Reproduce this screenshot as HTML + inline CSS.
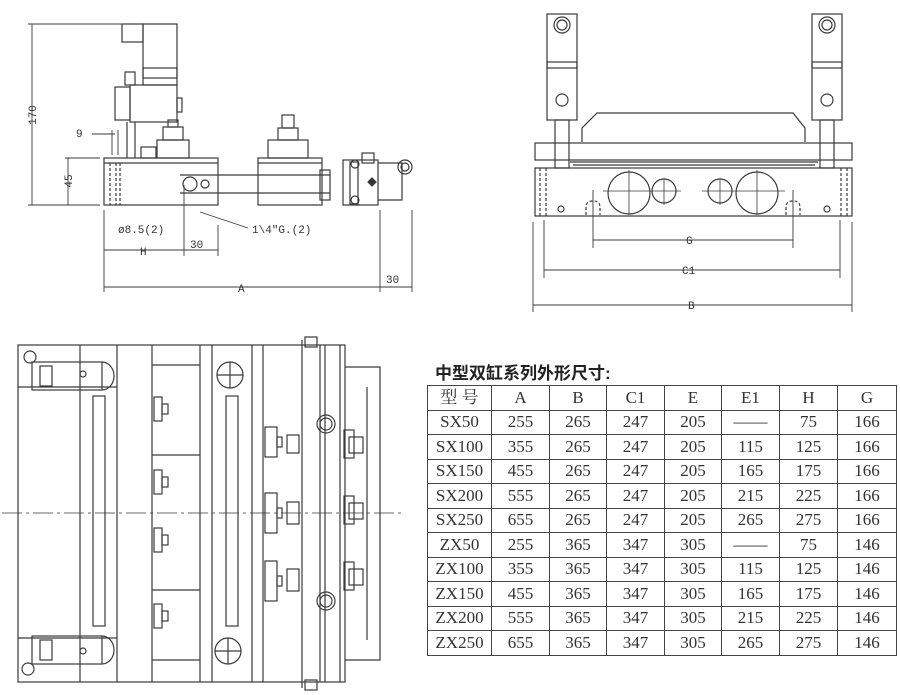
<!DOCTYPE html>
<html><head><meta charset="utf-8"><style>
body{margin:0;background:#fff;width:900px;height:695px;overflow:hidden;position:relative;font-family:"Liberation Serif","Noto Serif CJK SC",serif}
svg{position:absolute;left:0;top:0}
.t{font-family:"Liberation Mono",monospace;font-size:11px;fill:#333}
table{position:absolute;left:427px;top:385px;border-collapse:collapse;font-size:17px;color:#333}
td{border:1.5px solid #444;text-align:center;padding:0;height:23.5px;line-height:20px}
.ttl{position:absolute;left:435px;top:359px;font:bold 17px "Liberation Sans","Noto Sans CJK SC",sans-serif;color:#222}
</style></head><body>
<svg width="900" height="695" viewBox="0 0 900 695" fill="none" stroke="#3a3a3a" stroke-width="1.2">
<!-- side view -->
<rect x="104" y="158" width="114" height="47"/>
<line x1="104" y1="163" x2="218" y2="163"/>
<line x1="110" y1="163" x2="110" y2="205" stroke-dasharray="3,2"/><line x1="116" y1="163" x2="116" y2="205" stroke-dasharray="3,2"/><line x1="120" y1="163" x2="120" y2="205" stroke-dasharray="3,2"/>
<rect x="143" y="24" width="34" height="61"/><rect x="122" y="24" width="21" height="18"/>
<rect x="143" y="68" width="34" height="10"/>
<rect x="130" y="85" width="47" height="37"/><rect x="115" y="87" width="15" height="33"/>
<rect x="125" y="72" width="10" height="13"/><rect x="177" y="98" width="5" height="14"/>
<line x1="127" y1="122" x2="127" y2="158"/><line x1="135" y1="122" x2="135" y2="158"/>
<rect x="157" y="140" width="32" height="18"/><rect x="163" y="127" width="20" height="13"/><rect x="168" y="120" width="10" height="7"/>
<rect x="141" y="147" width="15" height="11"/>
<line x1="180" y1="175" x2="330" y2="175"/><line x1="180" y1="193" x2="330" y2="193"/>
<circle cx="190" cy="184" r="7"/><circle cx="205" cy="184" r="4"/>
<rect x="258" y="158" width="64" height="47"/><line x1="258" y1="163" x2="322" y2="163"/>
<rect x="268" y="140" width="40" height="18"/><rect x="278" y="128" width="20" height="12"/><rect x="282" y="115" width="12" height="13"/>
<rect x="320" y="170" width="10" height="30"/>
<rect x="343" y="160" width="35" height="45"/><rect x="350" y="162" width="8" height="42"/>
<circle cx="355" cy="164" r="4"/><circle cx="355" cy="200" r="4"/>
<rect x="362" y="153" width="12" height="10"/>
<polygon points="372,178 376,182 372,186 368,182" fill="#333"/>
<polyline points="378,163 402,163 402,200 378,200"/><circle cx="405" cy="167" r="7"/><circle cx="405" cy="167" r="4"/>
<g stroke-width="0.9">
<line x1="32" y1="24" x2="32" y2="205"/><line x1="28" y1="24" x2="122" y2="24"/><line x1="28" y1="205" x2="100" y2="205"/>
<line x1="68" y1="158" x2="68" y2="205"/><line x1="65" y1="158" x2="100" y2="158"/>
<line x1="92" y1="134" x2="115" y2="134"/><line x1="112" y1="130" x2="112" y2="155" /><line x1="118" y1="130" x2="118" y2="155"/>
<line x1="104" y1="210" x2="104" y2="292"/><line x1="184" y1="185" x2="184" y2="256"/><line x1="218" y1="225" x2="218" y2="256"/>
<line x1="104" y1="250" x2="184" y2="250"/><line x1="184" y1="250" x2="218" y2="250"/>
<line x1="380" y1="210" x2="380" y2="292"/><line x1="412" y1="210" x2="412" y2="292"/>
<line x1="104" y1="287" x2="412" y2="287"/>
<line x1="200" y1="212" x2="248" y2="228"/>
</g>
<g stroke="none" fill="#333">
<text class="t" x="36" y="115" transform="rotate(-90 36 115)" text-anchor="middle">170</text>
<text class="t" x="72" y="181" transform="rotate(-90 72 181)" text-anchor="middle">45</text>
<text class="t" x="76" y="137">9</text>
<text class="t" x="118" y="233">ø8.5(2)</text>
<text class="t" x="252" y="233">1\4"G.(2)</text>
<text class="t" x="140" y="255">H</text>
<text class="t" x="190" y="248">30</text>
<text class="t" x="238" y="292">A</text>
<text class="t" x="386" y="283">30</text>
<text class="t" x="686" y="244">G</text>
<text class="t" x="682" y="274">C1</text>
<text class="t" x="688" y="309">B</text>
</g>
<!-- front view -->
<rect x="547" y="14" width="30" height="106"/><circle cx="562" cy="25" r="8"/><circle cx="562" cy="25" r="5"/>
<rect x="547" y="62" width="30" height="6"/><circle cx="562" cy="100" r="6"/>
<rect x="812" y="14" width="30" height="106"/><circle cx="827" cy="25" r="8"/><circle cx="827" cy="25" r="5"/>
<rect x="812" y="62" width="30" height="6"/><circle cx="827" cy="100" r="6"/>
<rect x="555" y="120" width="14" height="48"/><rect x="820" y="120" width="14" height="48"/>
<polyline points="582,142 582,128 597,113 793,113 805,128 805,142"/>
<rect x="535" y="143" width="317" height="17"/>
<line x1="570" y1="162" x2="818" y2="162"/><line x1="573" y1="165" x2="815" y2="165"/>
<rect x="535" y="168" width="317" height="48"/>
<line x1="540" y1="168" x2="540" y2="216" stroke-dasharray="3,2"/><line x1="546" y1="168" x2="546" y2="216" stroke-dasharray="3,2"/>
<line x1="841" y1="168" x2="841" y2="216" stroke-dasharray="3,2"/><line x1="847" y1="168" x2="847" y2="216" stroke-dasharray="3,2"/>
<circle cx="629" cy="193" r="21"/><circle cx="664" cy="191" r="12"/><circle cx="720" cy="191" r="12"/><circle cx="757" cy="193" r="21"/>
<g stroke-width="0.8"><line x1="603" y1="191" x2="681" y2="191"/><line x1="629" y1="170" x2="629" y2="215"/><line x1="664" y1="178" x2="664" y2="205"/>
<line x1="702" y1="191" x2="785" y2="191"/><line x1="720" y1="178" x2="720" y2="205"/><line x1="757" y1="170" x2="757" y2="215"/></g>
<circle cx="561" cy="209" r="3"/><circle cx="827" cy="209" r="3"/>
<path d="M586,215 v-8 q0,-6 7,-6 q7,0 7,6 v8" stroke-dasharray="3,2"/><path d="M786,215 v-8 q0,-6 7,-6 q7,0 7,6 v8" stroke-dasharray="3,2"/>
<g stroke-width="0.9">
<line x1="593" y1="190" x2="593" y2="248"/><line x1="793" y1="190" x2="793" y2="248"/><line x1="593" y1="240" x2="793" y2="240"/>
<line x1="544" y1="220" x2="544" y2="278"/><line x1="840" y1="220" x2="840" y2="278"/><line x1="544" y1="270" x2="840" y2="270"/>
<line x1="533" y1="222" x2="533" y2="312"/><line x1="852" y1="222" x2="852" y2="312"/><line x1="533" y1="305" x2="852" y2="305"/>
</g>
<!-- plan view -->
<rect x="18" y="345" width="327" height="337"/>
<g>
<line x1="80" y1="345" x2="80" y2="682"/><line x1="117" y1="345" x2="117" y2="682"/><line x1="152" y1="345" x2="152" y2="682"/>
<line x1="200" y1="345" x2="200" y2="682"/><line x1="212" y1="345" x2="212" y2="682"/><line x1="252" y1="345" x2="252" y2="682"/>
<line x1="263" y1="345" x2="263" y2="682"/><line x1="302" y1="340" x2="302" y2="688"/><line x1="320" y1="345" x2="320" y2="682"/>
<line x1="325" y1="345" x2="325" y2="682"/><line x1="340" y1="345" x2="340" y2="682"/>
<line x1="18" y1="387" x2="117" y2="387"/><line x1="18" y1="638" x2="117" y2="638"/>
<line x1="152" y1="365" x2="200" y2="365"/><line x1="152" y1="455" x2="200" y2="455"/><line x1="152" y1="590" x2="200" y2="590"/><line x1="152" y1="660" x2="200" y2="660"/>
<polyline points="345,367 380,367 380,660 345,660"/><line x1="367" y1="387" x2="367" y2="640"/>
<rect x="305" y="337" width="12" height="10"/><rect x="305" y="680" width="12" height="10"/>
</g>
<line x1="2" y1="513" x2="405" y2="513" stroke-width="0.8" stroke-dasharray="20,4,3,4"/>
<rect x="32" y="362" width="70" height="28"/><path d="M102,362 a12,14 0 0 1 0,28"/><circle cx="83" cy="374" r="3"/><rect x="40" y="366" width="12" height="20"/>
<rect x="32" y="636" width="70" height="28"/><path d="M102,636 a12,14 0 0 1 0,28"/><circle cx="83" cy="651" r="3"/><rect x="40" y="640" width="12" height="20"/>
<circle cx="30" cy="357" r="6"/><circle cx="28" cy="669" r="6"/>
<rect x="93" y="396" width="12" height="230"/><rect x="226" y="396" width="12" height="230"/>
<circle cx="230" cy="375" r="13"/><line x1="217" y1="375" x2="243" y2="375"/><line x1="230" y1="362" x2="230" y2="388"/>
<circle cx="228" cy="651" r="13"/><line x1="215" y1="651" x2="241" y2="651"/><line x1="228" y1="638" x2="228" y2="664"/>
<g><rect x="154" y="397" width="8" height="24"/><rect x="162" y="404" width="6" height="10"/>
<rect x="154" y="470" width="8" height="24"/><rect x="162" y="477" width="6" height="10"/>
<rect x="154" y="528" width="8" height="24"/><rect x="162" y="535" width="6" height="10"/>
<rect x="154" y="604" width="8" height="24"/><rect x="162" y="611" width="6" height="10"/>
<rect x="265" y="427" width="12" height="30"/><rect x="277" y="437" width="5" height="10"/><rect x="287" y="435" width="12" height="18"/>
<rect x="265" y="493" width="12" height="40"/><rect x="277" y="508" width="5" height="10"/><rect x="287" y="502" width="12" height="22"/>
<rect x="265" y="561" width="12" height="40"/><rect x="277" y="576" width="5" height="10"/><rect x="287" y="569" width="12" height="22"/>
<rect x="344" y="430" width="10" height="28"/><rect x="349" y="437" width="14" height="16"/>
<rect x="344" y="496" width="10" height="28"/><rect x="349" y="503" width="14" height="16"/>
<rect x="344" y="562" width="10" height="28"/><rect x="349" y="569" width="14" height="16"/></g>
<circle cx="326" cy="424" r="9"/><circle cx="326" cy="424" r="6"/><circle cx="326" cy="601" r="9"/><circle cx="326" cy="601" r="6"/>
</svg>
<div class="ttl">中型双缸系列外形尺寸:</div>
<table>
<tr><td style="width:63px">型 号</td><td style="width:57px">A</td><td style="width:56px">B</td><td style="width:57px">C1</td><td style="width:56px">E</td><td style="width:57px">E1</td><td style="width:57px">H</td><td style="width:58px">G</td></tr>
<tr><td>SX50</td><td>255</td><td>265</td><td>247</td><td>205</td><td>——</td><td>75</td><td>166</td></tr>
<tr><td>SX100</td><td>355</td><td>265</td><td>247</td><td>205</td><td>115</td><td>125</td><td>166</td></tr>
<tr><td>SX150</td><td>455</td><td>265</td><td>247</td><td>205</td><td>165</td><td>175</td><td>166</td></tr>
<tr><td>SX200</td><td>555</td><td>265</td><td>247</td><td>205</td><td>215</td><td>225</td><td>166</td></tr>
<tr><td>SX250</td><td>655</td><td>265</td><td>247</td><td>205</td><td>265</td><td>275</td><td>166</td></tr>
<tr><td>ZX50</td><td>255</td><td>365</td><td>347</td><td>305</td><td>——</td><td>75</td><td>146</td></tr>
<tr><td>ZX100</td><td>355</td><td>365</td><td>347</td><td>305</td><td>115</td><td>125</td><td>146</td></tr>
<tr><td>ZX150</td><td>455</td><td>365</td><td>347</td><td>305</td><td>165</td><td>175</td><td>146</td></tr>
<tr><td>ZX200</td><td>555</td><td>365</td><td>347</td><td>305</td><td>215</td><td>225</td><td>146</td></tr>
<tr><td>ZX250</td><td>655</td><td>365</td><td>347</td><td>305</td><td>265</td><td>275</td><td>146</td></tr>
</table>
</body></html>
